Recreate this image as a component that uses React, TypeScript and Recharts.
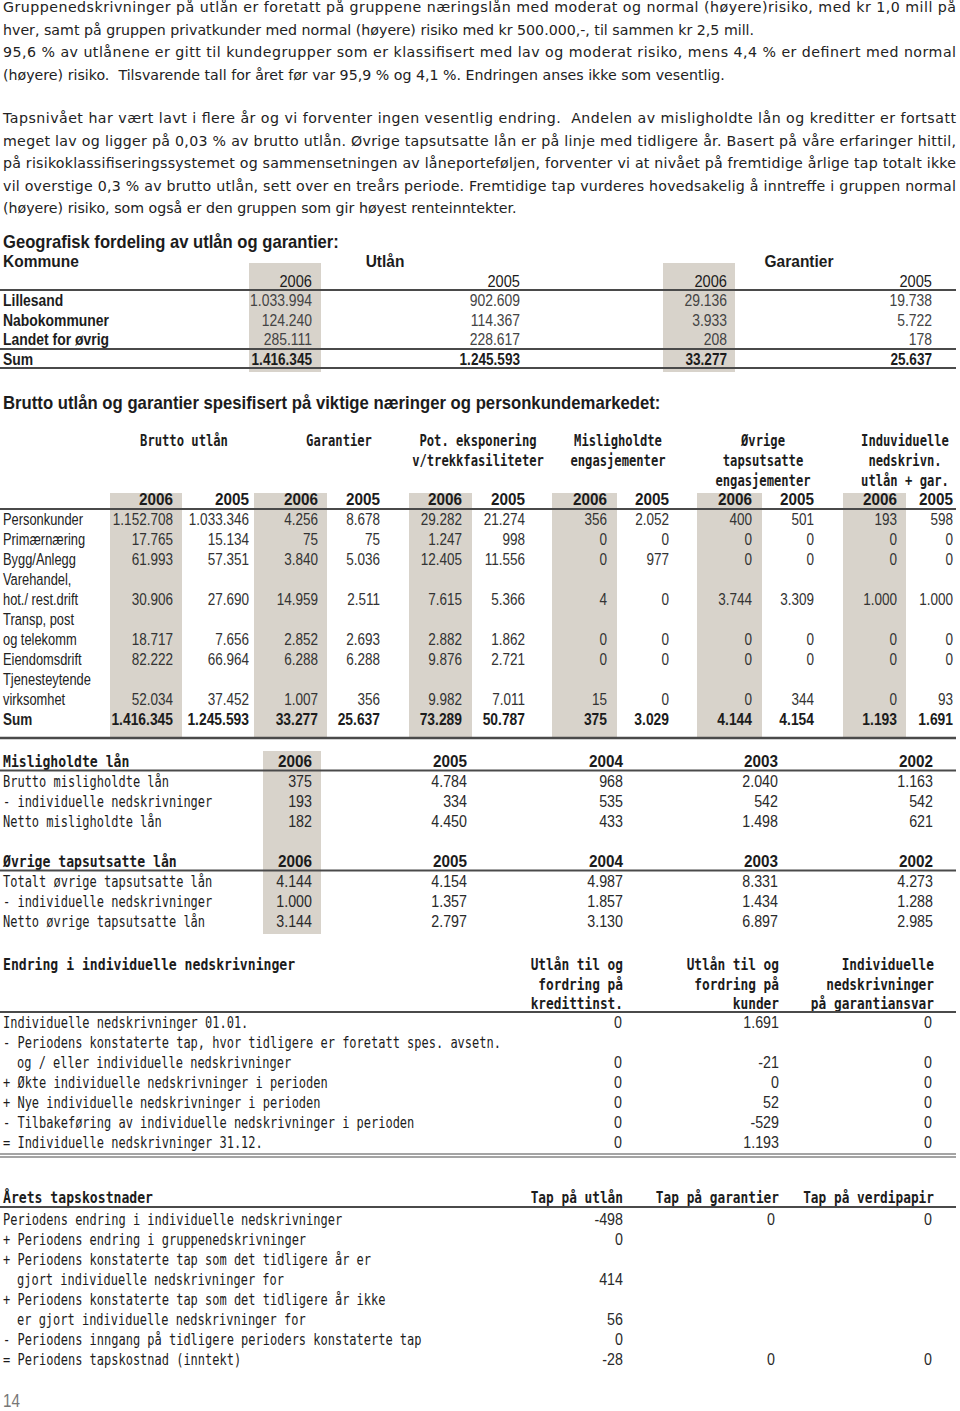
import React from 'react';
import { Surface, Layer, Rectangle } from 'recharts';

// ---- text content ----
const para1 = [
  'Gruppenedskrivninger på utlån er foretatt på gruppene næringslån med moderat og normal (høyere)risiko, med kr 1,0 mill på',
  'hver, samt på gruppen privatkunder med normal (høyere) risiko med kr 500.000,-, til sammen kr 2,5 mill.',
  '95,6 % av utlånene er gitt til kundegrupper som er klassifisert med lav og moderat risiko, mens 4,4 % er definert med normal',
  '(høyere) risiko.  Tilsvarende tall for året før var 95,9 % og 4,1 %. Endringen anses ikke som vesentlig.',
];
const para1Justify = [true, false, true, false];
const para2 = [
  'Tapsnivået har vært lavt i flere år og vi forventer ingen vesentlig endring.  Andelen av misligholdte lån og kreditter er fortsatt',
  'meget lav og ligger på 0,03 % av brutto utlån. Øvrige tapsutsatte lån er på linje med tidligere år. Basert på våre erfaringer hittil,',
  'på risikoklassifiseringssystemet og sammensetningen av låneporteføljen, forventer vi at nivået på fremtidige årlige tap totalt ikke',
  'vil overstige 0,3 % av brutto utlån, sett over en treårs periode. Fremtidige tap vurderes hovedsakelig å inntreffe i gruppen normal',
  '(høyere) risiko, som også er den gruppen som gir høyest renteinntekter.',
];
const para2Justify = [true, true, true, true, false];

// ---- geografisk fordeling ----
const geoKommuner = ['Lillesand', 'Nabokommuner', 'Landet for øvrig', 'Sum'];
const geoUtlan2006 = [1033994, 124240, 285111, 1416345];
const geoUtlan2005 = [902609, 114367, 228617, 1245593];
const geoGar2006 = [29136, 3933, 208, 33277];
const geoGar2005 = [19738, 5722, 178, 25637];

// ---- næringer ----
const naeringer = [
  ['Personkunder'],
  ['Primærnæring'],
  ['Bygg/Anlegg'],
  ['Varehandel,', 'hot./ rest.drift'],
  ['Transp, post', 'og telekomm'],
  ['Eiendomsdrift'],
  ['Tjenesteytende', 'virksomhet'],
  ['Sum'],
];
const brutto2006 = [1152708, 17765, 61993, 30906, 18717, 82222, 52034, 1416345];
const brutto2005 = [1033346, 15134, 57351, 27690, 7656, 66964, 37452, 1245593];
const garantier2006 = [4256, 75, 3840, 14959, 2852, 6288, 1007, 33277];
const garantier2005 = [8678, 75, 5036, 2511, 2693, 6288, 356, 25637];
const potEksp2006 = [29282, 1247, 12405, 7615, 2882, 9876, 9982, 73289];
const potEksp2005 = [21274, 998, 11556, 5366, 1862, 2721, 7011, 50787];
const misl2006 = [356, 0, 0, 4, 0, 0, 15, 375];
const misl2005 = [2052, 0, 977, 0, 0, 0, 0, 3029];
const ovrige2006 = [400, 0, 0, 3744, 0, 0, 0, 4144];
const ovrige2005 = [501, 0, 0, 3309, 0, 0, 344, 4154];
const indNed2006 = [193, 0, 0, 1000, 0, 0, 0, 1193];
const indNed2005 = [598, 0, 0, 1000, 0, 0, 93, 1691];
const groupHeaders = [
  ['Brutto utlån'],
  ['Garantier'],
  ['Pot. eksponering', 'v/trekkfasiliteter'],
  ['Misligholdte', 'engasjementer'],
  ['Øvrige', 'tapsutsatte', 'engasjementer'],
  ['Induviduelle', 'nedskrivn.', 'utlån + gar.'],
];

// ---- misligholdte / øvrige tapsutsatte ----
const aar = [2006, 2005, 2004, 2003, 2002];
const bruttoMisl = [375, 4784, 968, 2040, 1163];
const indNedMisl = [193, 334, 535, 542, 542];
const nettoMisl = [182, 4450, 433, 1498, 621];
const totaltOvrige = [4144, 4154, 4987, 8331, 4273];
const indNedOvrige = [1000, 1357, 1857, 1434, 1288];
const nettoOvrige = [3144, 2797, 3130, 6897, 2985];

// ---- endring i individuelle nedskrivninger ----
const endringRader = [
  ['Individuelle nedskrivninger 01.01.'],
  ['- Periodens konstaterte tap, hvor tidligere er foretatt spes. avsetn.', 'og / eller individuelle nedskrivninger'],
  ['+ Økte individuelle nedskrivninger i perioden'],
  ['+ Nye individuelle nedskrivninger i perioden'],
  ['- Tilbakeføring av individuelle nedskrivninger i perioden'],
  ['= Individuelle nedskrivninger 31.12.'],
];
const endringKredittinst = [0, 0, 0, 0, 0, 0];
const endringKunder = [1691, -21, 0, 52, -529, 1193];
const endringGaranti = [0, 0, 0, 0, 0, 0];

// ---- årets tapskostnader ----
const tapRader = [
  ['Periodens endring i individuelle nedskrivninger'],
  ['+ Periodens endring i gruppenedskrivninger'],
  ['+ Periodens konstaterte tap som det tidligere år er', 'gjort individuelle nedskrivninger for'],
  ['+ Periodens konstaterte tap som det tidligere år ikke', 'er gjort individuelle nedskrivninger for'],
  ['- Periodens inngang på tidligere perioders konstaterte tap'],
  ['= Periodens tapskostnad (inntekt)'],
];
const tapUtlan = [-498, 0, 414, 56, 0, -28];
const tapGarantier = [0, null, null, null, null, 0];
const tapVerdipapir = [0, null, null, null, null, 0];

const SANS = '"Liberation Sans", Arial, sans-serif';
const MONO = '"DejaVu Sans Mono", "Liberation Mono", monospace';
const BODY = '"DejaVu Sans", sans-serif';
const SHADE = '#d8d3cb';
const RULE = '#4a4a4a';

const fmt = (n: number | null) =>
  n === null ? '' : (n < 0 ? '-' : '') + Math.abs(n).toString().replace(/\B(?=(\d{3})+(?!\d))/g, '.');

// condensed sans
function T({ x, y, s, a = 'start', b = false, sz = 16.5, sx = 0.86, c = '#1c1c1c' }: any) {
  return (
    <text transform={`translate(${x} ${y}) scale(${sx} 1)`} textAnchor={a} fontFamily={SANS} fontSize={sz} fontWeight={b ? 700 : 400} fill={c}>
      {s}
    </text>
  );
}
// condensed mono
function M({ x, y, s, a = 'start', b = false, sz = 16, sx, c = '#1c1c1c' }: any) {
  const k = sx ?? (b ? 0.82 : 0.75);
  return (
    <text transform={`translate(${x} ${y}) scale(${k} 1)`} textAnchor={a} fontFamily={MONO} fontSize={sz} fontWeight={b ? 700 : 400} fill={c}>
      {s}
    </text>
  );
}
// numbers and years: condensed sans, right aligned
const Num = (p: any) => <T a="end" sz={17} sx={p.b ? 0.88 : 0.84} c={p.b ? '#1c1c1c' : '#2a2a2a'} {...p} />;

const Rule = ({ y, x1 = 0, x2 = 956, w = 1.8 }: any) => (
  <line x1={x1} x2={x2} y1={y} y2={y} stroke={RULE} strokeWidth={w} />
);

function Paragraph({ lines, justify, top }: any) {
  return (
    <Layer>
      {lines.map((l: string, i: number) => (
        <text
          key={i}
          x={3}
          y={top + i * 22.5}
          textLength={justify[i] ? 953 : undefined}
          lengthAdjust="spacing"
          fontFamily={BODY}
          fontSize={14.2}
          fill="#222"
          style={{ whiteSpace: 'pre' }}
        >
          {l}
        </text>
      ))}
    </Layer>
  );
}

function GeoTable() {
  const rights = [312, 520, 727, 932];
  const cols = [geoUtlan2006, geoUtlan2005, geoGar2006, geoGar2005];
  const years = ['2006', '2005', '2006', '2005'];
  return (
    <Layer>
      <Rectangle x={249} y={263} width={72} height={109} fill={SHADE} />
      <Rectangle x={663} y={263} width={72} height={109} fill={SHADE} />
      <T x={3} y={248} s="Geografisk fordeling av utlån og garantier:" b sz={17.5} sx={0.95} />
      <T x={3} y={267} s="Kommune" b sx={0.94} />
      <T x={385} y={267} s="Utlån" b a="middle" sx={0.94} />
      <T x={799} y={267} s="Garantier" b a="middle" sx={0.94} />
      {years.map((yr, i) => (
        <T key={i} a="end" x={rights[i]} y={287} s={yr} sz={17} sx={0.86} />
      ))}
      <Rule y={290} />
      {geoKommuner.map((k, r) => (
        <Layer key={k}>
          <T x={3} y={306 + r * 19.5} s={k} b sx={0.82} sz={17} />
          {cols.map((col, ci) => (
            <T key={ci} a="end" x={rights[ci]} y={306 + r * 19.5} s={fmt(col[r])} b={r === 3} c={r === 3 ? '#1c1c1c' : '#444'} sx={r === 3 ? 0.8 : 0.82} sz={17} />
          ))}
        </Layer>
      ))}
      <Rule y={349} />
      <Rule y={368} />
    </Layer>
  );
}

function NaeringTable() {
  const rights = [173, 249, 318, 380, 462, 525, 607, 669, 752, 814, 897, 953];
  const bands = [[110, 182], [254, 327], [409, 472], [552, 617], [697, 762], [843, 906]];
  const centers = [184, 339, 478, 618, 763, 905];
  const cols = [brutto2006, brutto2005, garantier2006, garantier2005, potEksp2006, potEksp2005, misl2006, misl2005, ovrige2006, ovrige2005, indNed2006, indNed2005];
  let line = 0;
  const rows = naeringer.map((labels, r) => {
    const start = line;
    line += labels.length;
    return { labels, start, valueLine: line - 1, r };
  });
  const last = naeringer.length - 1;
  return (
    <Layer>
      {bands.map(([a, b], i) => (
        <Rectangle key={i} x={a} y={493} width={b - a} height={245} fill={SHADE} />
      ))}
      <T x={3} y={409} s="Brutto utlån og garantier spesifisert på viktige næringer og personkundemarkedet:" b sz={17.5} sx={0.955} />
      {groupHeaders.map((g, gi) =>
        g.map((h, hi) => <M key={`${gi}-${hi}`} x={centers[gi]} y={446 + hi * 20} s={h} b a="middle" sx={0.76} />),
      )}
      {rights.map((x, i) => (
        <Num key={i} x={x} y={505} s={i % 2 === 0 ? '2006' : '2005'} b sx={0.9} />
      ))}
      <Rule y={509} />
      {rows.map(({ labels, start, valueLine, r }) => (
        <Layer key={r}>
          {labels.map((l, li) => (
            <T key={li} x={3} y={525 + (start + li) * 20} s={l} b={r === last} sx={r === last ? 0.82 : 0.78} c="#222" />
          ))}
          {cols.map((col, ci) => (
            <T key={ci} a="end" x={rights[ci]} y={525 + valueLine * 20} s={fmt(col[r])} b={r === last} sx={r === last ? 0.84 : 0.82} c={r === last ? '#1c1c1c' : '#333'} />
          ))}
        </Layer>
      ))}
      <Rule y={738} w={2.6} />
    </Layer>
  );
}

function MislTable() {
  const rights = [312, 467, 623, 778, 933];
  const blocks = [
    { title: 'Misligholdte lån', top: 767, rows: [['Brutto misligholdte lån', bruttoMisl], ['- individuelle nedskrivninger', indNedMisl], ['Netto misligholdte lån', nettoMisl]] },
    { title: 'Øvrige tapsutsatte lån', top: 867, rows: [['Totalt øvrige tapsutsatte lån', totaltOvrige], ['- individuelle nedskrivninger', indNedOvrige], ['Netto øvrige tapsutsatte lån', nettoOvrige]] },
  ];
  return (
    <Layer>
      <Rectangle x={263} y={751} width={58} height={183} fill={SHADE} />
      {blocks.map((bl) => (
        <Layer key={bl.title}>
          <M x={3} y={bl.top} s={bl.title} b />
          {aar.map((yr, i) => (
            <Num key={yr} x={rights[i]} y={bl.top} s={String(yr)} b sx={0.9} />
          ))}
          <Rule y={bl.top + 3.5} />
          {bl.rows.map(([label, vals]: any, r) => (
            <Layer key={label}>
              <M x={3} y={bl.top + 20 + r * 20} s={label} />
              {vals.map((v: number, i: number) => (
                <Num key={i} x={rights[i]} y={bl.top + 20 + r * 20} s={fmt(v)} />
              ))}
            </Layer>
          ))}
        </Layer>
      ))}
    </Layer>
  );
}

function EndringTable() {
  const rights = [622, 779, 932];
  const headRights = [623, 779, 934];
  const heads = [['Utlån til og', 'fordring på', 'kredittinst.'], ['Utlån til og', 'fordring på', 'kunder'], ['Individuelle', 'nedskrivninger', 'på garantiansvar']];
  const cols = [endringKredittinst, endringKunder, endringGaranti];
  let line = 0;
  return (
    <Layer>
      <M x={3} y={970} s="Endring i individuelle nedskrivninger" b />
      {heads.map((h, ci) =>
        h.map((s, li) => <M key={`${ci}-${li}`} x={headRights[ci]} y={970 + li * 19.5} s={s} b a="end" sx={0.8} />),
      )}
      <Rule y={1012} />
      {endringRader.map((labels, r) => {
        const start = line;
        line += labels.length;
        const vy = 1028 + (line - 1) * 20;
        return (
          <Layer key={r}>
            {labels.map((l, li) => (
              <M key={li} x={li === 0 ? 3 : 17} y={1028 + (start + li) * 20} s={l} />
            ))}
            {cols.map((col, ci) => (
              <Num key={ci} x={rights[ci]} y={vy} s={fmt(col[r])} />
            ))}
          </Layer>
        );
      })}
      <Rule y={1154} w={1.2} />
      <Rule y={1157} w={1.2} />
    </Layer>
  );
}

function TapTable() {
  const rights = [623, 775, 932];
  const heads = [['Tap på utlån', 623], ['Tap på garantier', 779], ['Tap på verdipapir', 934]];
  const cols = [tapUtlan, tapGarantier, tapVerdipapir];
  let line = 0;
  return (
    <Layer>
      <M x={3} y={1203} s="Årets tapskostnader" b />
      {heads.map(([s, x]: any) => (
        <M key={s} x={x} y={1203} s={s} b a="end" sx={0.8} />
      ))}
      <Rule y={1207} />
      {tapRader.map((labels, r) => {
        const start = line;
        line += labels.length;
        const vy = 1225 + (line - 1) * 20;
        return (
          <Layer key={r}>
            {labels.map((l, li) => (
              <M key={li} x={li === 0 ? 3 : 17} y={1225 + (start + li) * 20} s={l} />
            ))}
            {cols.map((col, ci) => (
              <Num key={ci} x={rights[ci]} y={vy} s={fmt(col[r])} />
            ))}
          </Layer>
        );
      })}
    </Layer>
  );
}

export default function App() {
  return (
    <div style={{ position: 'absolute', left: 0, top: 0, width: 960, height: 1411, background: '#fff' }}>
      <Surface width={960} height={1411}>
        <Paragraph lines={para1} justify={para1Justify} top={12} />
        <Paragraph lines={para2} justify={para2Justify} top={123} />
        <GeoTable />
        <NaeringTable />
        <MislTable />
        <EndringTable />
        <TapTable />
        <T x={3} y={1407} s="14" sz={19} sx={0.8} c="#777" />
      </Surface>
    </div>
  );
}
